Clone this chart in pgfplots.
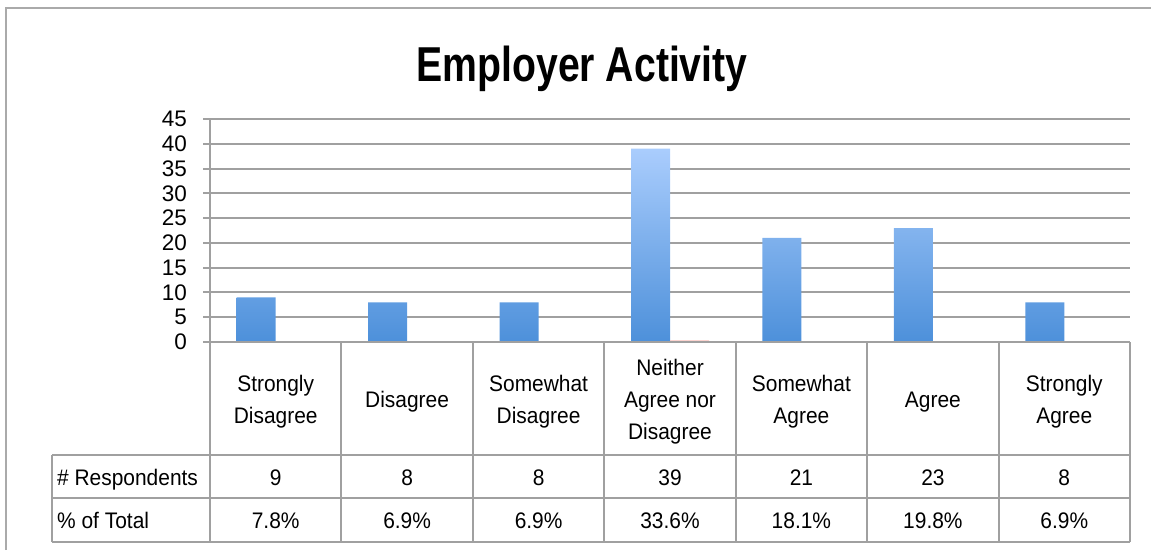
\documentclass[border=0pt]{standalone}
\usepackage{fontspec}
\setmainfont{Liberation Sans}
\newfontfamily\tabfont{Liberation Sans}[FakeStretch=0.93]
\newfontfamily\titlefont{Liberation Sans}[FakeStretch=0.8]
\usepackage{pgfplots}
\pgfplotsset{compat=1.18}
\definecolor{gridgray}{HTML}{A0A0A0}
\definecolor{framegray}{HTML}{AAAAAA}
\definecolor{barlight}{HTML}{AACDFD}
\definecolor{bardark}{HTML}{4D90DA}
\definecolor{redlight}{HTML}{F7B4AE}
\definecolor{reddark}{HTML}{EB8A83}
\begin{document}
\begin{tikzpicture}[x=1pt,y=1pt]
\useasboundingbox (0,0) rectangle (1151,550);
\draw[framegray, line width=2pt] (6,0) -- (6,542) -- (1151,542);
\node[anchor=base, font=\titlefont\fontsize{49}{55}\selectfont\bfseries] at (582,468) {Employer Activity};
\begin{axis}[
  at={(210pt,208pt)}, anchor=south west,
  scale only axis, width=920pt, height=223pt,
  xmin=-0.5, xmax=6.5, ymin=0, ymax=45,
  ytick={0,5,...,45}, xtick=\empty,
  axis y line*=left, axis x line*=bottom,
  axis line style={gridgray, line width=2pt},
  ymajorgrids, grid style={gridgray, line width=2pt},
  tick align=outside, major tick length=7pt,
  tick style={gridgray, line width=2pt},
  /pgf/number format/assume math mode=true,
  yticklabel style={font=\fontsize{22.5}{24}\selectfont, inner sep=0pt, anchor=east, xshift=-16pt},
  ybar=0pt, bar width=39pt,
  clip=false,
]
\addplot[draw=none, top color=barlight, bottom color=bardark] coordinates {(0,9) (1,8) (2,8) (3,39) (4,21) (5,23) (6,8)};
\addplot[draw=none, top color=redlight, bottom color=reddark] coordinates {(0,0.078) (1,0.069) (2,0.069) (3,0.336) (4,0.181) (5,0.198) (6,0.069)};
\end{axis}
% data table grid
\begin{scope}[gridgray, line width=2pt]
\draw (52,95) -- (1130,95);
\draw (52,52) -- (1130,52);
\draw (52,8) -- (1130,8);
\draw (52,95) -- (52,8);
\draw (210,208) -- (1130,208);
\foreach \k in {0,...,7} {\draw (210+131.43*\k,208) -- (210+131.43*\k,8);}
\end{scope}
\begin{scope}[every node/.style={font=\tabfont\fontsize{22.5}{31.7}\selectfont, inner sep=0pt, anchor=base}]
% headers
\node at (275.7,158.5) {Strongly};
\node at (275.7,126.8) {Disagree};
\node at (407.1,142.7) {Disagree};
\node at (538.6,158.5) {Somewhat};
\node at (538.6,126.8) {Disagree};
\node at (670.0,174.4) {Neither};
\node at (670.0,142.7) {Agree nor};
\node at (670.0,111.0) {Disagree};
\node at (801.4,158.5) {Somewhat};
\node at (801.4,126.8) {Agree};
\node at (932.9,142.7) {Agree};
\node at (1064.3,158.5) {Strongly};
\node at (1064.3,126.8) {Agree};
% rows
\node[anchor=base west] at (57,65) {\# Respondents};
\node[anchor=base west] at (57,21.7) {\% of Total};
\foreach \x/\v/\p in {275.7/9/7.8, 407.1/8/6.9, 538.6/8/6.9, 670.0/39/33.6, 801.4/21/18.1, 932.9/23/19.8, 1064.3/8/6.9} {
  \node at (\x,65) {\v};
  \node at (\x,21.7) {\p\%};
}
\end{scope}
\end{tikzpicture}
\end{document}
